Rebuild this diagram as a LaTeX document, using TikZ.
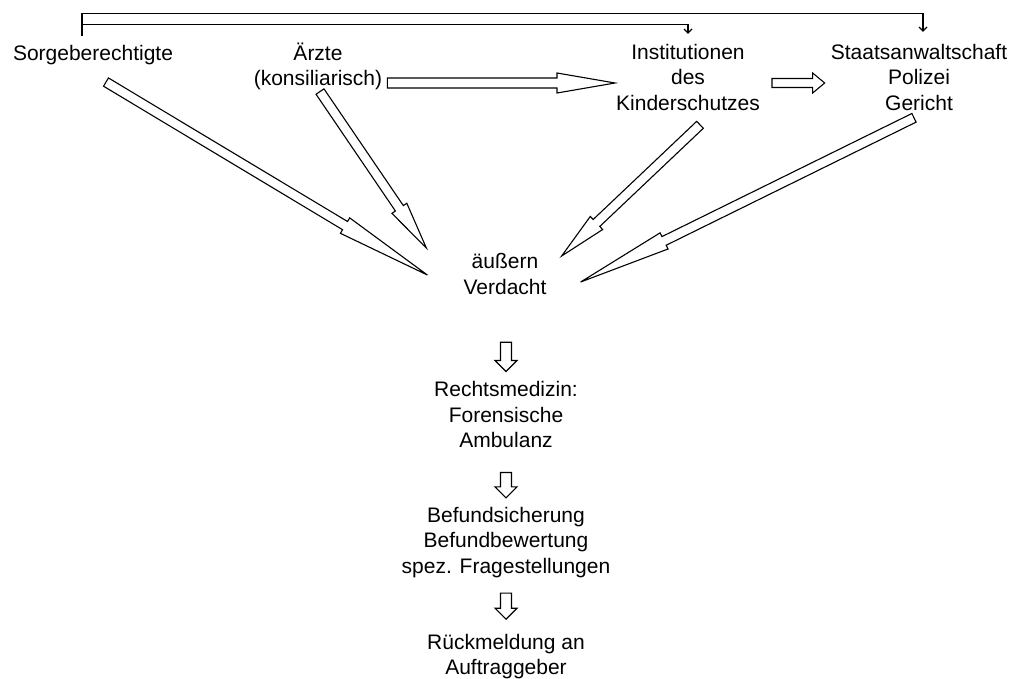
\documentclass[tikz,border=0pt]{standalone}
\usepackage{fontspec}
\setmainfont{Liberation Sans}
\usepackage{tikz}
\usetikzlibrary{positioning, calc, arrows.meta}

\newcommand{\hollowarrow}[5]{%
  \path (#1) coordinate (ha-s) (#2) coordinate (ha-t);
  \path ($(ha-t)!#5!(ha-s)$) coordinate (ha-h);
  \draw[blockarrow] ($(ha-s)!#3!90:(ha-t)$) -- ($(ha-h)!#3!-90:(ha-s)$) -- ($(ha-h)!#4!-90:(ha-s)$) -- (ha-t)
    -- ($(ha-h)!#4!90:(ha-s)$) -- ($(ha-h)!#3!90:(ha-s)$) -- ($(ha-s)!#3!-90:(ha-t)$) -- cycle;
}

\begin{document}
\begin{tikzpicture}[x=1pt, y=-1pt,
  lbl/.style={align=center, inner sep=0pt, font=\fontsize{21}{25.2}\selectfont},
  blockarrow/.style={draw, line width=1.1pt, line join=miter, fill=white},
  thinarrow/.style={draw, line width=1.1pt, -{Straight Barb[length=4pt, width=8pt]}}]
  \useasboundingbox (0,0) rectangle (1016,679);

  \node[lbl] (sorge) at (93,55) {Sorgeberechtigte};
  \node[lbl] (aerzte) at (318,66.5) {Ärzte\\(konsiliarisch)};
  \node[lbl] (inst) at (688,77.3) {Institutionen\\des\\Kinderschutzes};
  \node[lbl] (staats) at (919,77.3) {Staatsanwaltschaft\\Polizei\\Gericht};
  \node[lbl] (verdacht) at (505,274) {äußern\\Verdacht};
  \node[lbl] (rechts) at (506,414.5) {Rechtsmedizin:\\Forensische\\Ambulanz};
  \node[lbl] (befund) at (506,542.5) {Befundsicherung\\Befundbewertung\\spez. Fragestellungen};
  \node[lbl] (rueck) at (506,656.5) {Rückmeldung an\\Auftraggeber};

  \draw[thinarrow] ([shift={(-11,-9.5)}]sorge.north) -- ++(0,-22) -| ([shift={(4,-12.4)}]staats.north);
  \draw[thinarrow] ([shift={(-11,-20.5)}]sorge.north) -| ([shift={(0,-10.4)}]inst.north);

  \hollowarrow{[shift={(5,16.5)}]aerzte.east}{[shift={(-1,5.7)}]inst.west}{5pt}{10pt}{58pt}
  \hollowarrow{[shift={(12,5.7)}]inst.east}{[shift={(-6,5.7)}]staats.west}{4.5pt}{10pt}{12pt}

  \hollowarrow{[shift={(13,17.1)}]sorge.south}{[shift={(-36,1)}]verdacht.west}{4.8pt}{9pt}{96pt}
  \hollowarrow{[shift={(2,1.3)}]aerzte.south}{[shift={(-37,-26)}]verdacht.west}{4.8pt}{9pt}{48pt}
  \hollowarrow{[shift={(12,14.4)}]inst.south}{[shift={(15,-18)}]verdacht.east}{4.8pt}{9pt}{48pt}
  \hollowarrow{[shift={(-5,7.4)}]staats.south}{[shift={(34,8)}]verdacht.east}{4.8pt}{9pt}{93pt}

  \hollowarrow{[shift={(1,47.7)}]verdacht.south}{[shift={(0,-9.9)}]rechts.north}{5.5pt}{11pt}{11pt}
  \hollowarrow{[shift={(0,24.9)}]rechts.south}{[shift={(0,-9.4)}]befund.north}{5.5pt}{11pt}{11pt}
  \hollowarrow{[shift={(0,15.4)}]befund.south}{[shift={(0,-14.7)}]rueck.north}{5.5pt}{11pt}{11pt}
\end{tikzpicture}
\end{document}
